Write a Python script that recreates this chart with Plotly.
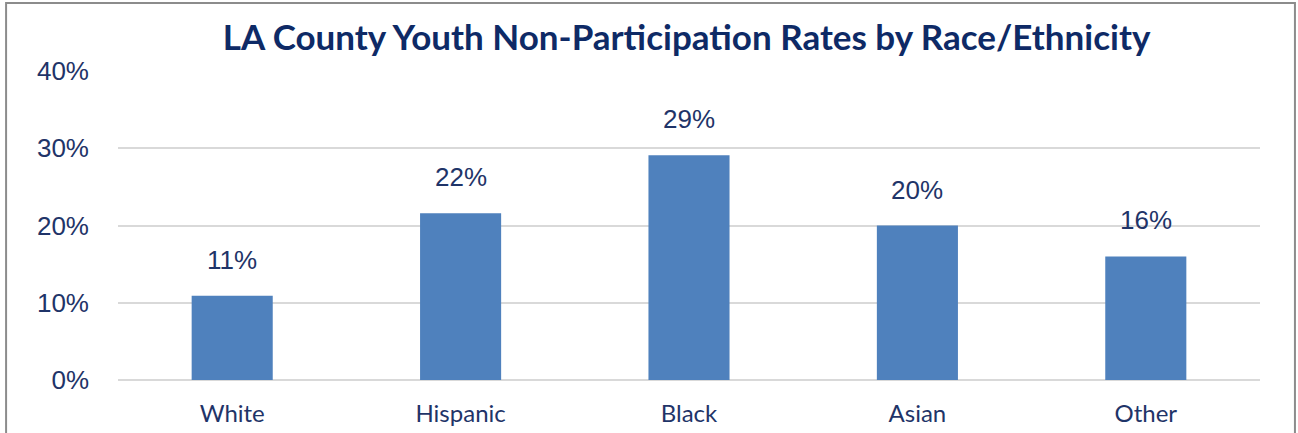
import plotly.graph_objects as go

groups = ["White", "Hispanic", "Black", "Asian", "Other"]
rates = [0.109, 0.216, 0.291, 0.200, 0.160]
y_ticks = [0, 0.1, 0.2, 0.3, 0.4]
y_tick_text = ["0%", "10%", "20%", "30%", "40%"]

navy = "#1F3468"
bar_blue = "#4F81BD"

fig = go.Figure(
    go.Bar(
        x=groups,
        y=rates,
        marker=dict(color=bar_blue, line=dict(width=0)),
        width=0.355,
        hoverinfo="skip",
    )
)

# value labels above each bar
for g, r in zip(groups, rates):
    fig.add_annotation(
        x=g, y=r, text=f"{r:.0%}", showarrow=False,
        yshift=36, font=dict(family="Liberation Sans, Arial", size=26, color=navy),
    )

# outer frame around the chart
fig.add_shape(
    type="rect", xref="paper", yref="paper",
    x0=-0.098, x1=1.0306, y0=-0.4, y1=1.22,
    line=dict(color="#8C8C8C", width=2), fillcolor="rgba(0,0,0,0)", layer="below",
)

fig.update_layout(
    width=1298, height=433,
    margin=dict(l=118, r=38, t=71, b=53),
    paper_bgcolor="white", plot_bgcolor="white",
    showlegend=False,
    title=dict(
        text="<b>LA County Youth Non-Participation Rates by Race/Ethnicity</b>",
        x=0.529, xanchor="center", y=0.912, yanchor="middle",
        font=dict(family="Lato, Open Sans", size=35, color="#0E2A66"),
    ),
    xaxis=dict(
        showgrid=False, showline=False, ticks="", automargin=False,
        tickfont=dict(family="Lato, Open Sans", size=24, color=navy),
        ticklabelstandoff=17,
    ),
    yaxis=dict(
        range=[0, 0.4], tickvals=y_ticks, ticktext=y_tick_text,
        showgrid=True, gridcolor="#D9D9D9", gridwidth=2,
        zeroline=True, zerolinecolor="#D9D9D9", zerolinewidth=2,
        showline=False, ticks="", automargin=False,
        tickfont=dict(family="Liberation Sans, Arial", size=26, color=navy),
        ticklabelstandoff=28,
    ),
)

fig.write_html("out.html")
